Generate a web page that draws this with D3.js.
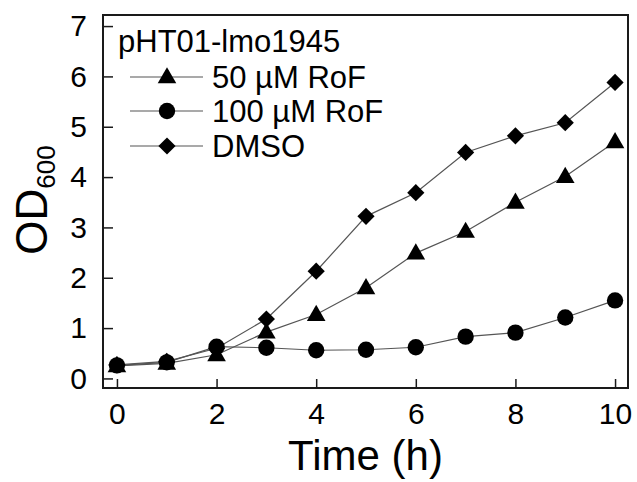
<!DOCTYPE html>
<html><head><meta charset="utf-8">
<script src="https://cdn.jsdelivr.net/npm/d3@7"></script>
<style>body{margin:0;background:#fff}text{font-family:"Liberation Sans",Arial,sans-serif;fill:#000}</style>
</head><body><svg id="c" width="637" height="482"></svg>
<script>
const time = [0,1,2,3,4,5,6,7,8,9,10];
const rof50 = [0.25,0.30,0.47,0.92,1.27,1.80,2.49,2.92,3.50,4.01,4.70];
const rof100 = [0.26,0.32,0.63,0.61,0.56,0.57,0.62,0.83,0.91,1.21,1.55];
const dmso = [0.27,0.34,0.60,1.18,2.13,3.22,3.69,4.49,4.82,5.08,5.88];
const xTicks = [0,2,4,6,8,10];
const yTicks = [0,1,2,3,4,5,6,7];
const legendTitle = "pHT01-lmo1945";
const seriesNames = ["50 µM RoF","100 µM RoF","DMSO"];

const svg = d3.select("#c");
const L=103, R=628, T=15, B=388;
const x = d3.scaleLinear().domain([-0.28,10.26]).range([L,R]);
const y = d3.scaleLinear().domain([-0.19,7.22]).range([B,T]);

// frame
svg.append("rect").attr("x",L).attr("y",T).attr("width",R-L).attr("height",B-T)
  .attr("fill","none").attr("stroke","#1a1a1a").attr("stroke-width",2);

// x axis
const xMinor = d3.range(0,11,1);
const gx = svg.append("g").attr("transform",`translate(0,${B})`);
gx.call(d3.axisBottom(x).tickValues(xMinor).tickSize(-5).tickFormat(""));
gx.call(d3.axisBottom(x).tickValues(xTicks).tickSize(-9).tickPadding(15).tickFormat(d3.format("d")));
gx.selectAll(".domain").remove();
gx.selectAll("line").attr("stroke","#1a1a1a").attr("stroke-width",1.5);
gx.selectAll("text").attr("font-size",30).attr("font-family","Liberation Sans, Arial, sans-serif").attr("fill","#000");

// y axis
const yMinor = d3.range(0,7.01,0.5);
const gy = svg.append("g").attr("transform",`translate(${L},0)`);
gy.call(d3.axisLeft(y).tickValues(yMinor).tickSize(-5).tickFormat(""));
gy.call(d3.axisLeft(y).tickValues(yTicks).tickSize(-10).tickPadding(16).tickFormat(d3.format("d")));
gy.selectAll(".domain").remove();
gy.selectAll("line").attr("stroke","#1a1a1a").attr("stroke-width",1.5);
gy.selectAll("text").attr("font-size",30).attr("font-family","Liberation Sans, Arial, sans-serif").attr("fill","#000");

// axis titles
svg.append("text").attr("x",(L+R)/2).attr("y",470).attr("text-anchor","middle")
  .attr("font-size",42).text("Time (h)");
const yl = svg.append("text").attr("transform","translate(47,200) rotate(-90)")
  .attr("text-anchor","middle").attr("font-size",44);
yl.append("tspan").text("OD");
yl.append("tspan").attr("font-size",26).attr("dy",8).text("600");

// symbols
const sym = {
  tri: d3.symbol().type(d3.symbolTriangle).size(150),
  cir: d3.symbol().type(d3.symbolCircle).size(210),
  dia: d3.symbol().type(d3.symbolSquare).size(148)
};
const series = [
  {vals: rof50, s: "tri"},
  {vals: rof100, s: "cir"},
  {vals: dmso, s: "dia"}
];
const line = d3.line().x((d,i)=>x(time[i])).y(d=>y(d));
function drawMarker(g, s, cx, cy){
  const p = g.append("path").attr("d", sym[s]()).attr("fill","#000");
  if(s==="dia") p.attr("transform",`translate(${cx},${cy}) rotate(45)`);
  else if(s==="tri") p.attr("transform",`translate(${cx},${cy+1})`);
  else p.attr("transform",`translate(${cx},${cy})`);
}
series.forEach(se=>{
  svg.append("path").attr("d",line(se.vals)).attr("fill","none").attr("stroke","#555").attr("stroke-width",1.2);
});
series.forEach(se=>{
  const g = svg.append("g");
  se.vals.forEach((v,i)=>drawMarker(g,se.s,x(time[i]),y(v)));
});

// legend
svg.append("text").attr("x",118).attr("y",52).attr("font-size",31).text(legendTitle);
const rows = [77,111,146];
series.forEach((se,i)=>{
  const g = svg.append("g");
  g.append("line").attr("x1",130).attr("x2",203).attr("y1",rows[i]).attr("y2",rows[i])
    .attr("stroke","#555").attr("stroke-width",1.2);
  drawMarker(g,se.s,167,rows[i]);
  g.append("text").attr("x",212).attr("y",rows[i]+11).attr("font-size",31).text(seriesNames[i]);
});
</script></body></html>
